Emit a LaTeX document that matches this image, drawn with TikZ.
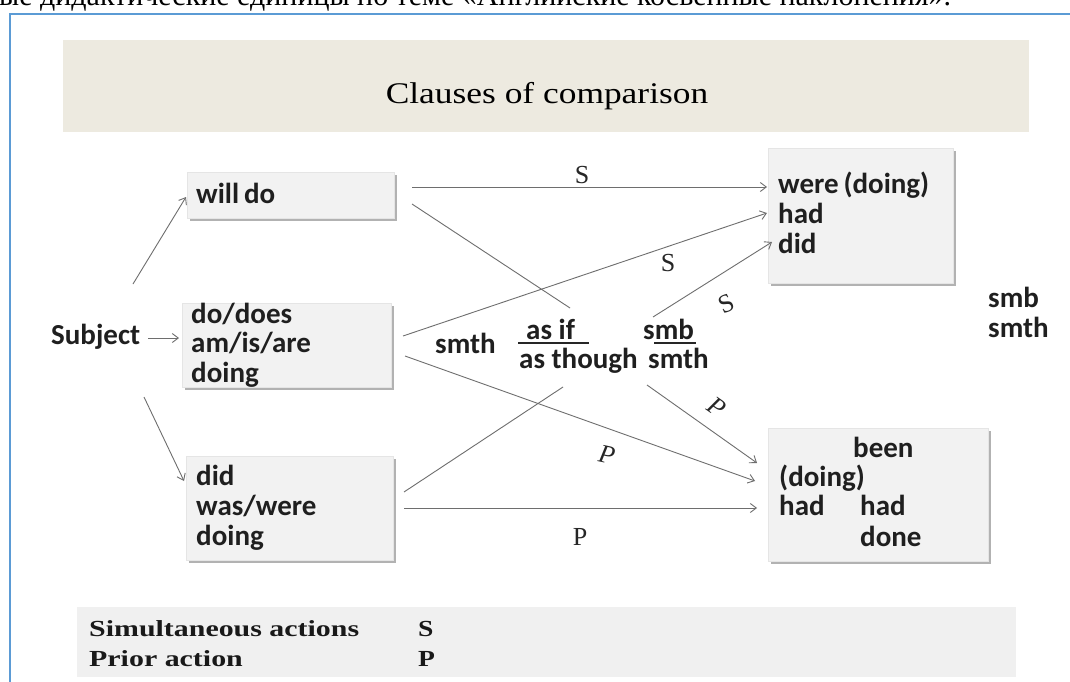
\documentclass[tikz,border=0pt]{standalone}
\usepackage{fontspec}
\usepackage{graphicx}
\setmainfont{Liberation Serif}
\newfontfamily\carl{Carlito}
\usetikzlibrary{arrows.meta,shadows}
\definecolor{frameblue}{RGB}{91,155,213}
\definecolor{titlebg}{RGB}{237,234,224}
\definecolor{boxbg}{RGB}{242,242,242}
\definecolor{legbg}{RGB}{240,240,240}
\definecolor{linegray}{RGB}{110,110,110}
\tikzset{
  box/.style={draw=black!10, fill=boxbg, anchor=north west, inner sep=0pt,
    drop shadow={shadow xshift=2.5pt, shadow yshift=-2.5pt, fill=black!60, opacity=0.5}},
  cal/.style={font=\carl\bfseries\fontsize{29}{30}\selectfont, anchor=base west, inner sep=0pt, text=black!88},
  conn/.style={draw=linegray, line width=0.9pt},
  arr/.style={conn, -{Straight Barb[length=6pt,width=9pt,line width=0.9pt]}},
  lbl/.style={font=\fontsize{26}{28}\selectfont, inner sep=0pt, text=black!85},
  leg/.style={font=\bfseries\fontsize{23}{25}\selectfont, anchor=base west, inner sep=0pt, text=black!90},
  uline/.style={draw=black!85, line width=1.6pt},
}
\begin{document}
\begin{tikzpicture}[x=1pt,y=-1pt]
\useasboundingbox (0,0) rectangle (1070,682);
\fill[white] (0,0) rectangle (1070,682);
% cut-off document text
\node[anchor=base west, inner sep=0pt, font=\fontsize{26}{28}\selectfont] (doc) at (-1,6)
  {\resizebox{952pt}{!}{ые дидактические единицы по теме «Английские косвенные наклонения».}};
% frame
\draw[frameblue, line width=2pt] (1075,14) -- (10,14) -- (10,690);
% title
\node[fill=titlebg, anchor=north west, minimum width=966pt, minimum height=92pt, inner sep=0pt] (titlebox) at (63,40) {};
\node[font=\fontsize{30}{32}\selectfont, anchor=base, inner sep=0pt] (title) at (547,103) {\scalebox{1.18}[1]{Clauses of comparison}};
% boxes
\node[box, minimum width=207pt, minimum height=46pt] (willdo) at (187,172) {};
\node[box, minimum width=209pt, minimum height=84pt] (dodoes) at (182,303) {};
\node[box, minimum width=207pt, minimum height=104pt] (didbox) at (186,456) {};
\node[box, minimum width=185pt, minimum height=135pt] (werebox) at (768,148) {};
\node[box, minimum width=220pt, minimum height=133pt] (beenbox) at (768,428) {};
% texts in boxes
\node[cal] (twilldo) at (196,203) {will\,do};
\node[cal] (tdo) at (191,323) {do/does};
\node[cal] (tam) at (191,352) {am/is/are};
\node[cal] (tdoing1) at (191,382) {doing};
\node[cal] (tdid) at (196,485) {did};
\node[cal] (twas) at (196,515) {was/were};
\node[cal] (tdoing2) at (196,545) {doing};
\node[cal] (twere) at (778,193) {were\,(doing)};
\node[cal] (thad1) at (778,223) {had};
\node[cal] (tdid2) at (778,253) {did};
\node[cal] (tbeen) at (853,457) {been};
\node[cal] (tdoing3) at (779,486) {(doing)};
\node[cal] (thad2) at (779,515) {had};
\node[cal] (thad3) at (860,515) {had};
\node[cal] (tdone) at (860,546) {done};
% free texts
\node[cal] (subject) at (51,344) {Subject};
\node[cal] (smthL) at (435,353) {smth};
\node[cal] (asif) at (526,339) {as if};
\node[cal] (asthough) at (519,368) {as though};
\node[cal] (smb) at (643,339) {smb};
\node[cal] (smthM) at (648,368) {smth};
\node[cal] (smbR) at (988,307) {smb};
\node[cal] (smthR) at (988,337) {smth};
\draw[uline] (518,343) -- (589,343);
\draw[uline] (654,343) -- (696,343);
% connector end points
\coordinate (s1) at (133,284); \coordinate (e1) at (186,197);
\coordinate (s2) at (148,338); \coordinate (e2) at (179,338);
\coordinate (s3) at (144,397); \coordinate (e3) at (184,481);
\coordinate (wdA) at (412,187); \coordinate (inWere) at (767,187);
\coordinate (wdB) at (412,204); \coordinate (asifTop) at (570,308);
\coordinate (ddA) at (403,336); \coordinate (inHad) at (767,213);
\coordinate (ddB) at (405,356); \coordinate (inDoing) at (755,481);
\coordinate (smbTop) at (653,317); \coordinate (inDid) at (772,242);
\coordinate (thBot) at (563,387); \coordinate (didA) at (404,492);
\coordinate (smBot) at (647,385); \coordinate (inBeen) at (757,463);
\coordinate (didB) at (404,508); \coordinate (inHad2) at (757,508);
% connectors
\draw[arr] (s1) -- (e1);
\draw[arr] (s2) -- (e2);
\draw[arr] (s3) -- (e3);
\draw[arr] (wdA) -- (inWere);
\draw[conn] (wdB) -- (asifTop);
\draw[arr] (ddA) -- (inHad);
\draw[arr] (ddB) -- (inDoing);
\draw[arr] (smbTop) -- (inDid);
\draw[conn] (thBot) -- (didA);
\draw[arr] (smBot) -- (inBeen);
\draw[arr] (didB) -- (inHad2);
% connector labels
\node[lbl] (lS1) at (582,175) {S};
\node[lbl] (lS2) at (668,263) {S};
\node[lbl, rotate=25] (lS3) at (726,304) {S};
\node[lbl, rotate=-35] (lP1) at (717,407) {\itshape P};
\node[lbl, rotate=-12] (lP2) at (607,455) {\itshape P};
\node[lbl] (lP3) at (580,537) {P};
% legend
\node[fill=legbg, anchor=north west, minimum width=939pt, minimum height=70pt, inner sep=0pt] (legend) at (77,607) {};
\node[leg] (legS) at (89,636) {\scalebox{1.3}[1]{Simultaneous actions}};
\node[leg] (legSv) at (418,636) {\scalebox{1.2}[1]{S}};
\node[leg] (legP) at (89,666) {\scalebox{1.3}[1]{Prior action}};
\node[leg] (legPv) at (418,666) {\scalebox{1.2}[1]{P}};
\end{tikzpicture}
\end{document}
